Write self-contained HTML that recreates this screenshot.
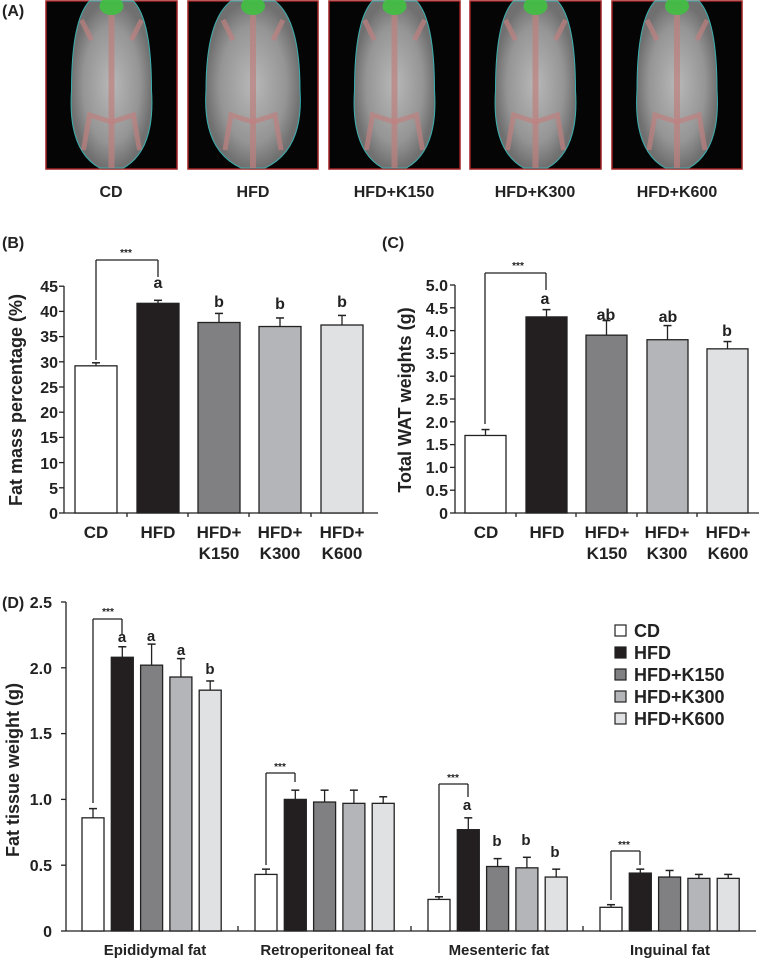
<!DOCTYPE html>
<html><head><meta charset="utf-8"><style>
html,body{margin:0;padding:0;background:#fff;}
svg{display:block;font-family:"Liberation Sans",Arial,sans-serif;font-weight:bold;}
</style></head><body>
<svg id="s" width="759" height="959" viewBox="0 0 759 959" xmlns="http://www.w3.org/2000/svg">
<defs>
<radialGradient id="body" cx="50%" cy="50%" r="50%">
<stop offset="0" stop-color="#b8b8b8"/><stop offset="0.7" stop-color="#959595"/><stop offset="1" stop-color="#707070"/>
</radialGradient>
</defs>
<g id="mice"></g>
<g font-size="16" text-anchor="middle" fill="#222">
<text x="111" y="197">CD</text>
<text x="253" y="197">HFD</text>
<text x="394" y="197">HFD+K150</text>
<text x="535" y="197">HFD+K300</text>
<text x="677" y="197">HFD+K600</text>
</g>
<text x="2" y="16" font-size="16" fill="#222">(A)</text>
<text x="2" y="248" font-size="16" fill="#222">(B)</text>
<text x="382" y="248" font-size="16" fill="#222">(C)</text>
<text x="2" y="608" font-size="16" fill="#222">(D)</text>

<g font-size="16" text-anchor="end" fill="#222">
<text x="58" y="519">0</text><text x="58" y="494">5</text><text x="58" y="469">10</text><text x="58" y="443">15</text><text x="58" y="418">20</text><text x="58" y="393">25</text><text x="58" y="368">30</text><text x="58" y="342">35</text><text x="58" y="317">40</text><text x="58" y="292">45</text>
</g>
<text transform="translate(22,400) rotate(-90)" font-size="18" text-anchor="middle" fill="#222">Fat mass percentage (%)</text>
<g font-size="17" text-anchor="middle" fill="#222">
<text x="96" y="538">CD</text><text x="158" y="538">HFD</text>
<text x="219" y="538">HFD+</text><text x="219" y="559">K150</text>
<text x="280" y="538">HFD+</text><text x="280" y="559">K300</text>
<text x="342" y="538">HFD+</text><text x="342" y="559">K600</text>
</g>
<g font-size="16" text-anchor="middle" fill="#222">
<text x="158" y="288">a</text><text x="219" y="307">b</text><text x="280" y="309">b</text><text x="342" y="307">b</text>
</g>
<text x="126" y="256" font-size="10" text-anchor="middle" fill="#222">***</text>

<g font-size="16" text-anchor="end" fill="#222">
<text x="448" y="519">0</text><text x="448" y="496">0.5</text><text x="448" y="473">1.0</text><text x="448" y="450">1.5</text><text x="448" y="428">2.0</text><text x="448" y="405">2.5</text><text x="448" y="382">3.0</text><text x="448" y="359">3.5</text><text x="448" y="337">4.0</text><text x="448" y="314">4.5</text><text x="448" y="291">5.0</text>
</g>
<text transform="translate(411,400) rotate(-90)" font-size="18" text-anchor="middle" fill="#222">Total WAT weights (g)</text>
<g font-size="17" text-anchor="middle" fill="#222">
<text x="486" y="538">CD</text><text x="547" y="538">HFD</text>
<text x="607" y="538">HFD+</text><text x="607" y="559">K150</text>
<text x="667" y="538">HFD+</text><text x="667" y="559">K300</text>
<text x="728" y="538">HFD+</text><text x="728" y="559">K600</text>
</g>
<g font-size="16" text-anchor="middle" fill="#222">
<text x="545" y="304">a</text><text x="606" y="320">ab</text><text x="668" y="322">ab</text><text x="727" y="336">b</text>
</g>
<text x="518" y="269" font-size="10" text-anchor="middle" fill="#222">***</text>

<g font-size="16" text-anchor="end" fill="#222">
<text x="52" y="937">0</text><text x="52" y="871">0.5</text><text x="52" y="805">1.0</text><text x="52" y="739">1.5</text><text x="52" y="674">2.0</text><text x="52" y="608">2.5</text>
</g>
<text transform="translate(19,770) rotate(-90)" font-size="18" text-anchor="middle" fill="#222">Fat tissue weight (g)</text>
<g font-size="15" text-anchor="middle" fill="#222">
<text x="155" y="955">Epididymal  fat</text>
<text x="327" y="955">Retroperitoneal  fat</text>
<text x="499" y="955">Mesenteric  fat</text>
<text x="670" y="955">Inguinal  fat</text>
</g>
<g font-size="15" text-anchor="middle" fill="#222">
<text x="122" y="642">a</text><text x="151" y="641">a</text><text x="181" y="655">a</text><text x="210" y="674">b</text>
<text x="467" y="810">a</text><text x="497" y="846">b</text><text x="526" y="845">b</text><text x="555" y="857">b</text>
</g>
<g font-size="10" text-anchor="middle" fill="#222">
<text x="108" y="615">***</text><text x="280" y="770">***</text><text x="453" y="781">***</text><text x="624" y="848">***</text>
</g>
<g font-size="18" fill="#222">
<text x="634" y="637">CD</text><text x="634" y="659">HFD</text><text x="634" y="681">HFD+K150</text><text x="634" y="703">HFD+K300</text><text x="634" y="725">HFD+K600</text>
</g>
<g id="g"></g>
</svg>
<script>
var NS="http://www.w3.org/2000/svg",G=document.getElementById("g"),M=document.getElementById("mice");
function el(p,t,a){var e=document.createElementNS(NS,t);for(var k in a)e.setAttribute(k,a[k]);p.appendChild(e);return e;}
function ln(x1,y1,x2,y2,w){el(G,"line",{x1:x1,y1:y1,x2:x2,y2:y2,stroke:"#222","stroke-width":w||1.3});}
var C=["#ffffff","#231f20","#808083","#b4b5b8","#e0e1e3"];
[[46,177],[188,318],[329,460],[470,601],[612,742]].forEach(function(b,i){
 var x=b[0],w=b[1]-b[0];
 el(M,"rect",{x:x,y:1,width:w,height:168,fill:"#050505",stroke:"#a02020","stroke-width":1.5});
 var cx=x+w/2, rx=i==1?47:(i==4?40:40);
 el(M,"path",{d:"M"+(cx-22)+",1 L"+(cx+22)+",1 Q"+(cx+rx)+",20 "+(cx+rx)+",90 Q"+(cx+rx+4)+",150 "+(cx+12)+",168 L"+(cx-12)+",168 Q"+(cx-rx-4)+",150 "+(cx-rx)+",90 Q"+(cx-rx)+",20 "+(cx-22)+",1Z",fill:"url(#body)",stroke:"#3ab0b0","stroke-width":1});
 el(M,"path",{d:"M"+cx+",15 L"+cx+",168",stroke:"#c08080","stroke-width":6,opacity:0.7});
 el(M,"path",{d:"M"+(cx-28)+",150 L"+(cx-22)+",115 L"+cx+",122 L"+(cx+22)+",115 L"+(cx+28)+",150",stroke:"#c08080","stroke-width":5,fill:"none",opacity:0.7});
 el(M,"path",{d:"M"+(cx-20)+",40 L"+(cx-30)+",20 M"+(cx+20)+",40 L"+(cx+30)+",20",stroke:"#c08080","stroke-width":5,fill:"none",opacity:0.7});
 el(M,"ellipse",{cx:cx,cy:6,rx:12,ry:9,fill:"#40c040",opacity:0.9});
});
function chart(ax,y0,sc,xend,xs,bw,vals,errs,ticks,ylen){
 ln(ax,y0,xend,y0);ln(ax,y0,ax,y0-ylen);
 ticks.forEach(function(t){ln(ax-5,y0-t*sc,ax,y0-t*sc);});
 xs.forEach(function(x,i){
  var ci=i%5,v=vals[i],e=errs[i],cx=x+bw/2;
  ln(cx,y0-v*sc,cx,y0-e*sc,1.3);ln(cx-4,y0-e*sc,cx+4,y0-e*sc,1.5);
  el(G,"rect",{x:x,y:y0-v*sc,width:bw,height:v*sc,fill:C[ci],stroke:"#222","stroke-width":1.3});
 });
}
var bt=[];for(var t=0;t<=45;t+=5)bt.push(t);
chart(64,513,5.04,378,[75,137,198,259,321],42,[29.2,41.6,37.8,37,37.3],[29.8,42.2,39.6,38.7,39.2],bt,227);
[127,188,249,311].forEach(function(x){ln(x,513,x,517);});
ln(96,260,158,260);ln(96,260,96,360);ln(158,260,158,277);
var ct=[];for(var t=0;t<=5;t+=0.5)ct.push(t);
chart(455,513,45.6,759,[465,526,586,647,707],41,[1.7,4.3,3.9,3.8,3.6],[1.83,4.46,4.22,4.11,3.76],ct,228);
[516,576,637,697].forEach(function(x){ln(x,513,x,517);});
ln(485,273,546,273);ln(485,273,485,424);ln(546,273,546,290);
var dv=[.86,2.08,2.02,1.93,1.83,.43,1.0,.98,.97,.97,.24,.77,.49,.48,.41,.18,.44,.41,.40,.40];
var de=[.93,2.16,2.18,2.07,1.90,.47,1.07,1.07,1.07,1.02,.26,.86,.55,.56,.47,.20,.47,.46,.43,.43];
var dx=[];[82,255,428,600].forEach(function(g){for(var k=0;k<5;k++)dx.push(g+k*29.3);});
chart(66,931,131.6,756,dx,22,dv,de,[0,.5,1,1.5,2,2.5],329);
[238,411,583].forEach(function(x){ln(x,931,x,926);});
function br(x1,x2,y,b1,b2){ln(x1,y,x2,y);ln(x1,y,x1,b1);ln(x2,y,x2,b2);}
br(93,122,619,803,634);br(266,295,773,865,782);br(439,468,784,893,797);br(611,640,851,900,865);
[0,1,2,3,4].forEach(function(i){el(G,"rect",{x:615,y:625+i*22,width:11,height:11,fill:C[i],stroke:"#222","stroke-width":1.2});});
</script>
</body></html>
